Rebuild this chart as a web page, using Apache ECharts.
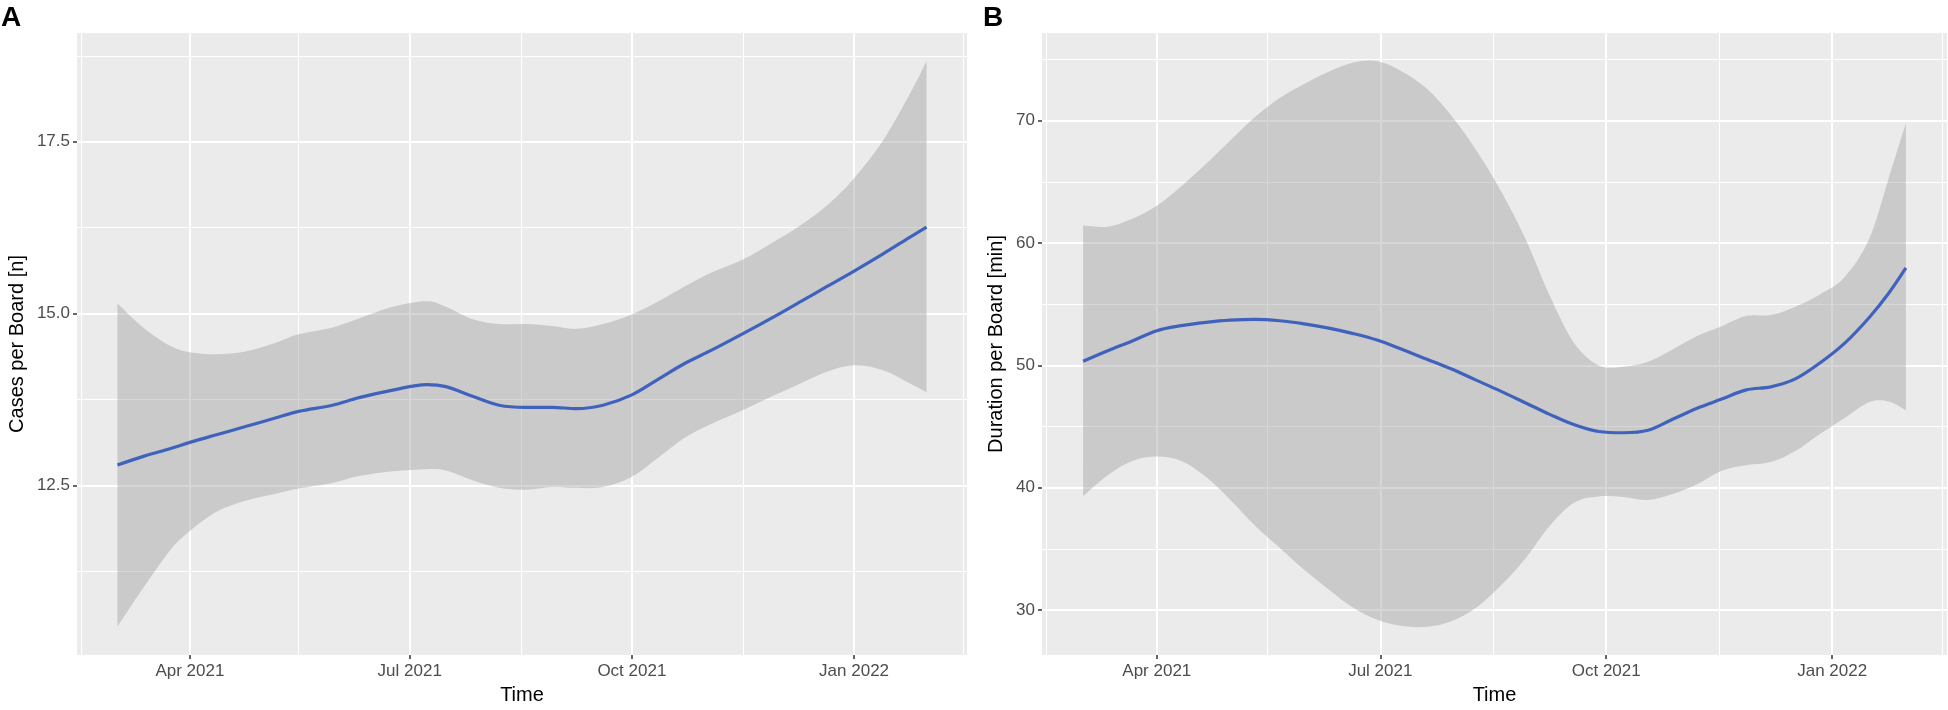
<!DOCTYPE html>
<html>
<head>
<meta charset="utf-8">
<script src="https://cdn.jsdelivr.net/npm/echarts@6/dist/echarts.min.js"></script>
<style>
  html, body { margin: 0; padding: 0; background: #fff; }
  #main { width: 1948px; height: 710px; }
</style>
</head>
<body>
<div id="main"></div>
<script>
// panel A - cases per board
var datesA = ['2021-03-02','2021-03-13','2021-03-24','2021-04-01','2021-04-12','2021-04-24','2021-05-06','2021-05-16',
  '2021-05-30','2021-06-10','2021-06-24','2021-07-08','2021-07-16','2021-07-27','2021-08-07','2021-08-18','2021-08-29',
  '2021-09-08','2021-09-19','2021-10-01','2021-10-12','2021-10-23','2021-11-03','2021-11-16','2021-11-28','2021-12-10',
  '2021-12-21','2022-01-01','2022-01-13','2022-01-24','2022-01-31'];
var fitA = [12.80,12.93,13.04,13.13,13.24,13.36,13.48,13.58,13.67,13.78,13.89,13.97,13.94,13.80,13.67,13.64,13.64,
  13.62,13.67,13.82,14.05,14.28,14.47,14.71,14.94,15.18,15.40,15.62,15.87,16.11,16.26];
var upperA = [15.15,14.79,14.53,14.44,14.41,14.45,14.57,14.70,14.80,14.93,15.10,15.18,15.10,14.92,14.85,14.85,14.82,
  14.78,14.85,14.99,15.18,15.40,15.60,15.79,16.03,16.29,16.58,16.97,17.52,18.19,18.67];
var lowerA = [10.45,11.03,11.57,11.84,12.12,12.28,12.38,12.46,12.54,12.64,12.71,12.74,12.72,12.58,12.47,12.44,12.48,
  12.47,12.48,12.63,12.91,13.20,13.40,13.60,13.80,13.99,14.16,14.25,14.18,13.99,13.86];

// panel B - duration per board
var datesB = ['2021-03-02','2021-03-12','2021-03-22','2021-04-01','2021-04-11','2021-04-21','2021-05-01','2021-05-11',
  '2021-05-21','2021-05-31','2021-06-10','2021-06-20','2021-06-30','2021-07-10','2021-07-20','2021-07-30','2021-08-09',
  '2021-08-19','2021-08-29','2021-09-08','2021-09-18','2021-09-28','2021-10-08','2021-10-18','2021-10-28','2021-11-07',
  '2021-11-17','2021-11-27','2021-12-07','2021-12-17','2021-12-27','2022-01-06','2022-01-16','2022-01-24','2022-01-31'];
var fitB = [50.34,51.2,52.0,52.84,53.25,53.52,53.7,53.76,53.65,53.4,53.05,52.6,52.05,51.3,50.5,49.7,48.8,
  47.9,46.95,46.0,45.15,44.6,44.5,44.7,45.6,46.5,47.25,48.0,48.25,48.9,50.2,51.8,53.9,55.9,57.97];
var upperB = [61.46,61.33,61.98,63.04,64.64,66.45,68.4,70.3,71.85,73.0,74.0,74.75,74.85,74.0,72.6,70.4,67.6,
  64.3,60.4,55.7,51.81,50.0,49.9,50.3,51.3,52.4,53.2,54.05,54.11,54.8,55.8,57.2,60.3,65.3,69.78];
var lowerB = [39.32,41.03,42.2,42.55,42.2,40.9,39.0,36.9,35.1,33.3,31.7,30.2,29.2,28.7,28.65,29.1,30.2,
  32.0,34.2,36.9,38.8,39.3,39.25,39.0,39.5,40.3,41.4,41.85,42.1,43.0,44.4,45.7,47.0,47.05,46.34];

// axis breaks
var xTicks = ['2021-04-01','2021-07-01','2021-10-01','2022-01-01'];
var xMinor = ['2021-02-15','2021-05-16','2021-08-16','2021-11-16','2022-02-15'];
var yTicksA = [12.5, 15.0, 17.5];
var yMinorA = [11.25, 13.75, 16.25, 18.75];
var yTicksB = [30, 40, 50, 60, 70];
var yMinorB = [35, 45, 55, 65, 75];

var months = ['Jan','Feb','Mar','Apr','May','Jun','Jul','Aug','Sep','Oct','Nov','Dec'];
var FONT = '"Liberation Sans", Arial, sans-serif';

function toTime(s) {
  var p = s.split('-');
  return new Date(+p[0], +p[1] - 1, +p[2]).getTime();
}
function pairs(dates, vals) {
  return dates.map(function (d, i) { return [toTime(d), vals[i]]; });
}
function expand(lo, hi) {
  var r = hi - lo;
  return [lo - 0.05 * r, hi + 0.05 * r];
}

// catmull-rom through screen points -> bezier path commands
function curveCmds(pts) {
  var s = '';
  for (var i = 0; i < pts.length - 1; i++) {
    var p0 = pts[Math.max(i - 1, 0)], p1 = pts[i], p2 = pts[i + 1], p3 = pts[Math.min(i + 2, pts.length - 1)];
    var c1x = p1[0] + (p2[0] - p0[0]) / 6, c1y = p1[1] + (p2[1] - p0[1]) / 6;
    var c2x = p2[0] - (p3[0] - p1[0]) / 6, c2y = p2[1] - (p3[1] - p1[1]) / 6;
    s += ' C' + c1x + ' ' + c1y + ' ' + c2x + ' ' + c2y + ' ' + p2[0] + ' ' + p2[1];
  }
  return s;
}

var chart = echarts.init(document.getElementById('main'), null, { renderer: 'canvas' });

function xAxisFor(idx, dates) {
  var ext = expand(toTime(dates[0]), toTime(dates[dates.length - 1]));
  return {
    type: 'value', gridIndex: idx, min: ext[0], max: ext[1],
    name: 'Time', nameLocation: 'middle', nameGap: 30,
    nameTextStyle: { color: '#000', fontSize: 20, fontFamily: FONT },
    axisLine: { show: false },
    splitLine: { show: false },
    axisTick: { show: true, length: 4, customValues: xTicks.map(toTime), lineStyle: { color: '#333', width: 1.5 } },
    axisLabel: {
      customValues: xTicks.map(toTime), margin: 8, color: '#4d4d4d', fontSize: 17, fontFamily: FONT,
      formatter: function (v) { var d = new Date(v); return months[d.getMonth()] + ' ' + d.getFullYear(); }
    }
  };
}

function yAxisFor(idx, title, lower, upper, ticks, digits, gap) {
  var ext = expand(Math.min.apply(null, lower), Math.max.apply(null, upper));
  return {
    type: 'value', gridIndex: idx, min: ext[0], max: ext[1],
    name: title, nameLocation: 'middle', nameRotate: 90, nameGap: gap,
    nameTextStyle: { color: '#000', fontSize: 20, fontFamily: FONT },
    axisLine: { show: false },
    splitLine: { show: false },
    axisTick: { show: true, length: 4, customValues: ticks, lineStyle: { color: '#333', width: 1.5 } },
    axisLabel: {
      customValues: ticks, margin: 7, color: '#4d4d4d', fontSize: 17, fontFamily: FONT,
      formatter: function (v) { return v.toFixed(digits); }
    }
  };
}

function gridLines(ticksX, minorX, ticksY, minorY) {
  var d = [];
  ticksX.forEach(function (s) { d.push({ xAxis: toTime(s), lineStyle: { width: 2 } }); });
  minorX.forEach(function (s) { d.push({ xAxis: toTime(s), lineStyle: { width: 1 } }); });
  ticksY.forEach(function (v) { d.push({ yAxis: v, lineStyle: { width: 2 } }); });
  minorY.forEach(function (v) { d.push({ yAxis: v, lineStyle: { width: 1 } }); });
  return {
    z: 1, silent: true, animation: false, symbol: ['none', 'none'],
    label: { show: false }, emphasis: { disabled: true },
    lineStyle: { color: '#ffffff', type: 'solid' },
    data: d
  };
}

function panelSeries(idx, dates, fit, lower, upper, grid) {
  var band = dates.map(function (d, i) { return [toTime(d), lower[i], upper[i]]; });
  return [{
    type: 'custom', xAxisIndex: idx, yAxisIndex: idx, z: 2, silent: true, animation: false,
    data: band,
    encode: { x: 0, y: [1, 2] },
    renderItem: function (params, api) {
      if (params.dataIndex !== 0) return null;
      var up = band.map(function (r) { return api.coord([r[0], r[2]]); });
      var lo = band.map(function (r) { return api.coord([r[0], r[1]]); }).reverse();
      var d = 'M' + up[0][0] + ' ' + up[0][1] + curveCmds(up) +
        ' L' + lo[0][0] + ' ' + lo[0][1] + curveCmds(lo) + ' Z';
      return {
        type: 'path', shape: { pathData: d },
        style: { fill: 'rgba(153,153,153,0.4)', stroke: null }
      };
    }
  }, {
    type: 'line', xAxisIndex: idx, yAxisIndex: idx, z: 3,
    data: pairs(dates, fit), symbol: 'none', smooth: 0.35,
    lineStyle: { color: '#3f62bd', width: 3.2 }, silent: true, animation: false,
    markLine: grid
  }];
}

var option = {
  animation: false,
  textStyle: { fontFamily: FONT },
  grid: [
    { left: 77, top: 33, width: 890, height: 629, show: true, backgroundColor: '#ebebeb', borderWidth: 0 },
    { left: 1042, top: 33, width: 905, height: 629, show: true, backgroundColor: '#ebebeb', borderWidth: 0 }
  ],
  xAxis: [xAxisFor(0, datesA), xAxisFor(1, datesB)],
  yAxis: [
    yAxisFor(0, 'Cases per Board [n]', lowerA, upperA, yTicksA, 1, 50),
    yAxisFor(1, 'Duration per Board [min]', lowerB, upperB, yTicksB, 0, 36)
  ],
  graphic: [
    { type: 'text', left: 1, top: 4, style: { text: 'A', fontSize: 28, fontWeight: 'bold', fontFamily: FONT, fill: '#000' } },
    { type: 'text', left: 983, top: 4, style: { text: 'B', fontSize: 28, fontWeight: 'bold', fontFamily: FONT, fill: '#000' } }
  ],
  series: [].concat(
    panelSeries(0, datesA, fitA, lowerA, upperA, gridLines(xTicks, xMinor, yTicksA, yMinorA)),
    panelSeries(1, datesB, fitB, lowerB, upperB, gridLines(xTicks, xMinor, yTicksB, yMinorB))
  )
};

chart.setOption(option);
</script>
</body>
</html>
